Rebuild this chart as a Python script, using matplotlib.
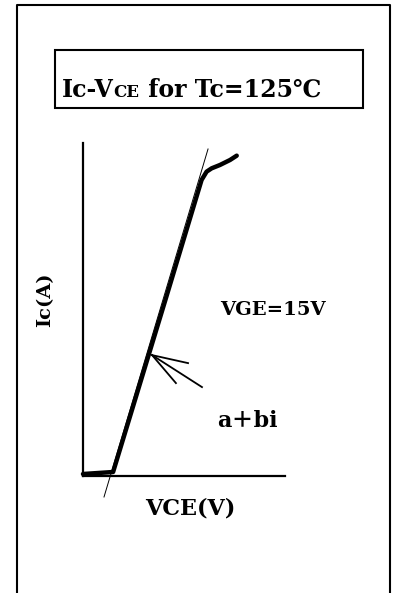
import numpy as np
import matplotlib
matplotlib.use("Agg")
import matplotlib.pyplot as plt
from matplotlib.patches import Rectangle
from matplotlib.lines import Line2D

# Ic-VCE characteristic at Tc=125C, VGE=15V (arbitrary units)
VCE = [0.0, 1.49, 4.08, 5.87, 6.12, 6.37, 6.78, 7.28, 7.61]
IC = [0.06, 0.12, 5.29, 8.89, 9.14, 9.24, 9.34, 9.49, 9.62]

# linear fit line a+bi through the on-state region
FIT_VCE = [1.04, 6.19]
FIT_IC = [-0.63, 9.82]

# open arrow pointing at the fit
ARROW_TIP = (3.42, 3.63)
ARROW_ENDS = [(5.20, 3.39), (4.60, 2.79), (5.89, 2.67)]

FONT = ["DejaVu Serif", "Noto Sans CJK JP"]
W, H = 393, 593

fig = plt.figure(figsize=(W / 100, H / 100), dpi=100)


def fx(px):
    return px / W


def fy(py):
    return 1 - py / H


# outer frame (open at the bottom) and title box
frame = Line2D([fx(17), fx(17), fx(390), fx(390)], [0, fy(5), fy(5), 0],
               transform=fig.transFigure, color="black", lw=1.5)
fig.add_artist(frame)
fig.add_artist(Rectangle((fx(55), fy(108)), fx(363) - fx(55), fy(50) - fy(108),
                         transform=fig.transFigure, fill=False, ec="black", lw=1.5))

# title with small-caps subscript
renderer = fig.canvas.get_renderer()
x0, base = fx(62), fy(97)
parts = [("Ic-V", 17), ("CE", 12), (" for Tc=125℃", 17)]
for s, size in parts:
    t = fig.text(x0, base, s, fontsize=size, fontweight="bold", family=FONT,
                 va="baseline", ha="left")
    bb = t.get_window_extent(renderer)
    x0 += bb.width / fig.bbox.width

ax = fig.add_axes([fx(83), fy(476), fx(285) - fx(83), fy(143) - fy(476)])
ax.set_xlim(0, 10)
ax.set_ylim(0, 10)
for side in ["top", "right"]:
    ax.spines[side].set_visible(False)
for side in ["left", "bottom"]:
    ax.spines[side].set_linewidth(1.6)
ax.set_xticks([])
ax.set_yticks([])
ax.patch.set_alpha(0)

ax.plot(VCE, IC, color="black", lw=3.2, solid_capstyle="round",
        solid_joinstyle="round", clip_on=False)
ax.plot(FIT_VCE, FIT_IC, color="black", lw=0.7, clip_on=False)
for ex, ey in ARROW_ENDS:
    ax.plot([ARROW_TIP[0], ex], [ARROW_TIP[1], ey], color="black", lw=1.3,
            clip_on=False)

ax.text(fx(273), fy(315), "VGE=15V", transform=fig.transFigure, fontsize=14,
        fontweight="bold", family=FONT, ha="center", va="baseline")
ax.text(fx(247), fy(427), "a＋bi", transform=fig.transFigure, fontsize=16,
        fontweight="bold", family=["DejaVu Serif", "Noto Sans CJK JP"],
        ha="center", va="baseline")
fig.text(fx(190), fy(515), "VCE(V)", fontsize=16, fontweight="bold",
         family=FONT, ha="center", va="baseline")
fig.text(fx(45), fy(300), "Ic(A)", fontsize=14, fontweight="bold",
         family=FONT, ha="center", va="center", rotation=90)

fig.savefig("out.png", dpi=100)
